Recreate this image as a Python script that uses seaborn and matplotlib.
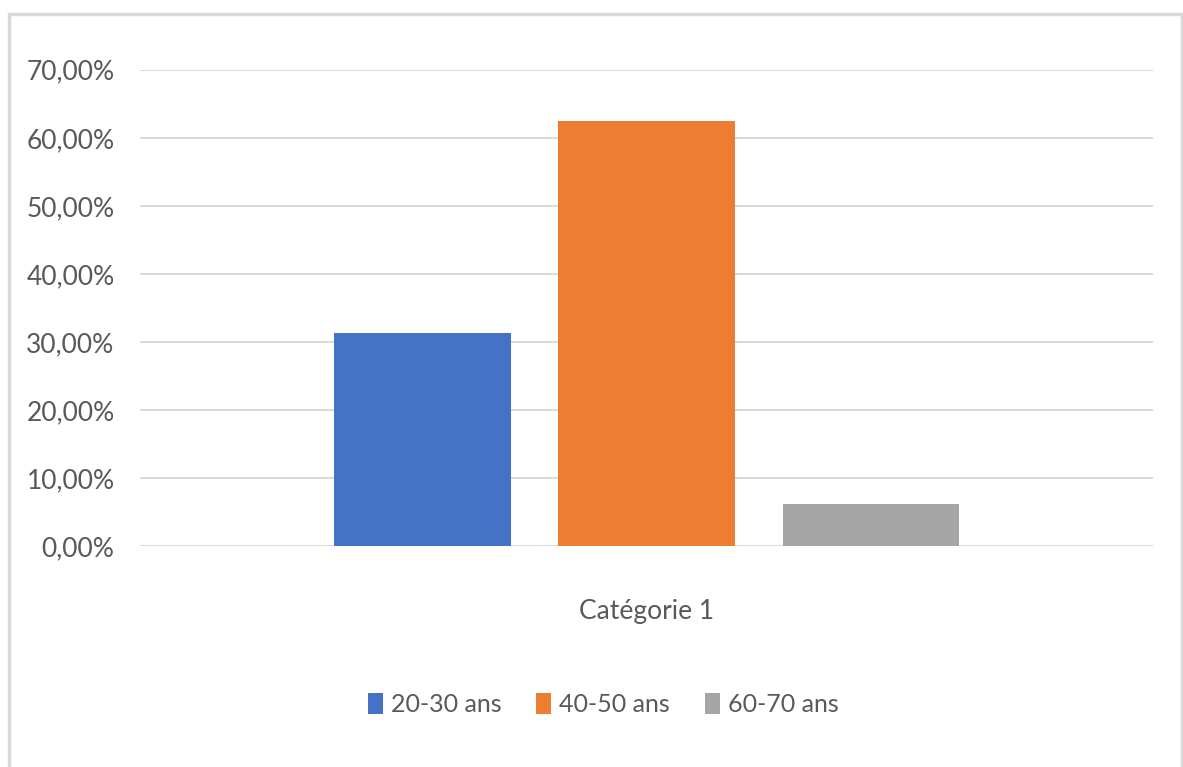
import pandas as pd
import matplotlib.pyplot as plt
import seaborn as sns
from matplotlib.patches import Rectangle
from matplotlib.ticker import FuncFormatter

# données du graphique (en %)
categories = ["Catégorie 1", "Catégorie 1", "Catégorie 1"]
tranches = ["20-30 ans", "40-50 ans", "60-70 ans"]
valeurs = [31.25, 62.5, 6.25]
couleurs = ["#4472C4", "#ED7D31", "#A5A5A5"]

df = pd.DataFrame({"categorie": categories, "tranche": tranches, "valeur": valeurs})

sns.set_style("white")
plt.rcParams['font.family'] = ['Lato', 'DejaVu Sans']
texte = "#595959"
taille = 19

fig = plt.figure(figsize=(11.83, 7.67), dpi=100)
ax = fig.add_axes([0.118, 0.288, 0.857, 0.621])

sns.barplot(data=df, x="categorie", y="valeur", hue="tranche",
            palette=couleurs, width=0.663, gap=0.214, saturation=1,
            linewidth=0, ax=ax)

ax.set_ylim(0, 70)
ax.set_xlim(-0.5, 0.5)
ax.set_yticks(range(0, 71, 10))
ax.yaxis.set_major_formatter(FuncFormatter(lambda v, p: f"{v:.2f}%".replace(".", ",")))
ax.grid(axis="y", color="#d9d9d9", linewidth=1.4)
ax.set_axisbelow(True)
for s in ax.spines.values():
    s.set_visible(False)
ax.tick_params(axis="y", length=0, pad=18, labelsize=taille, labelcolor=texte)
ax.tick_params(axis="x", length=0, pad=38, labelsize=taille, labelcolor=texte)
ax.set_xlabel("")
ax.set_ylabel("")

# légende en bas
handles, labels = ax.get_legend_handles_labels()
ax.legend_.remove()
fig.legend(handles, labels, loc="center", bbox_to_anchor=(0.51, 0.081), ncol=3,
           frameon=False, fontsize=18, labelcolor=texte, handlelength=0.6,
           handleheight=0.9, handletextpad=0.32, columnspacing=1.4)

# cadre de la zone de graphique
fig.patches.append(Rectangle((9 / 1183, -0.1), 1173 / 1183, 1.1 - 14 / 767,
                             transform=fig.transFigure, fill=False,
                             edgecolor="#d9d9d9", linewidth=2.5))

plt.savefig("out.png", dpi=100)
